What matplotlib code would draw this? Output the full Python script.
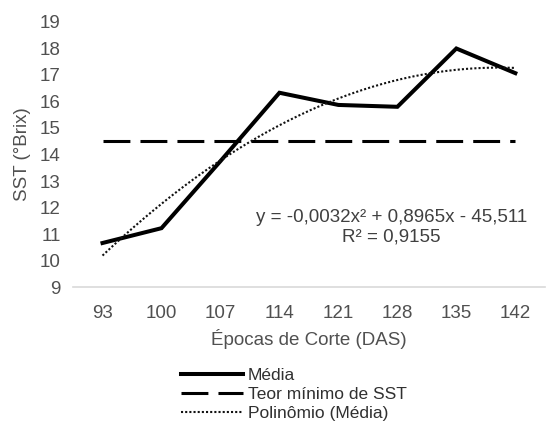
import numpy as np
import matplotlib.pyplot as plt

plt.rcParams['font.family'] = ['Liberation Sans', 'DejaVu Sans']

# dados
epocas = [93, 100, 107, 114, 121, 128, 135, 142]
media = [10.66, 11.22, 13.75, 16.33, 15.87, 15.8, 18.0, 17.07]
teor_minimo = 14.5
coef_poli = [-0.0032, 0.8965, -45.511]  # equação mostrada no gráfico
r2 = 0.9155

cinza = '#505050'

fig = plt.figure(figsize=(5.47, 4.23), dpi=100)
ax = fig.add_axes([0.1335, 0.3215, 0.8625, 0.6265])

ax.plot(epocas, media, color='black', lw=2.9, solid_joinstyle='miter', label='Média')
ax.plot([epocas[0], epocas[-1]], [teor_minimo, teor_minimo], color='black', lw=2.2,
        dashes=(8.8, 3.3), dash_capstyle='butt', label='Teor mínimo de SST')
xs = np.linspace(epocas[0], epocas[-1], 200)
ax.plot(xs, np.polyval(coef_poli, xs), color='#111111', lw=1.5, dashes=(1, 1.0),
        label='Polinômio (Média)')

ax.text(0.675, 0.225, 'y = -0,0032x² + 0,8965x - 45,511\nR² = 0,9155', transform=ax.transAxes,
        ha='center', va='center', fontsize=13.5, color='#404040', linespacing=1.15)

ax.set_xlim(epocas[0] - 3.5, epocas[-1] + 3.5)
ax.set_ylim(9, 19)
ax.set_xticks(epocas)
ax.set_yticks(range(9, 20))
ax.tick_params(axis='y', length=0, labelsize=13.5, colors=cinza, pad=9)
ax.tick_params(axis='x', length=0, labelsize=13.5, colors=cinza, pad=13)
for s in ['top', 'right', 'left']:
    ax.spines[s].set_visible(False)
ax.spines['bottom'].set_color('#d9d9d9')
ax.spines['bottom'].set_linewidth(1.2)

ax.set_xlabel('Épocas de Corte (DAS)', fontsize=13.5, color=cinza, labelpad=5)
ax.set_ylabel('SST (°Brix)', fontsize=13.5, color=cinza, labelpad=6)

leg = fig.legend(loc='upper left', bbox_to_anchor=(0.318, 0.146), frameon=False, fontsize=12.5,
                 handlelength=3.6, handletextpad=0.25, labelspacing=0.22, borderaxespad=0)
for t in leg.get_texts():
    t.set_color('#303030')

fig.savefig('out.png', dpi=100)
